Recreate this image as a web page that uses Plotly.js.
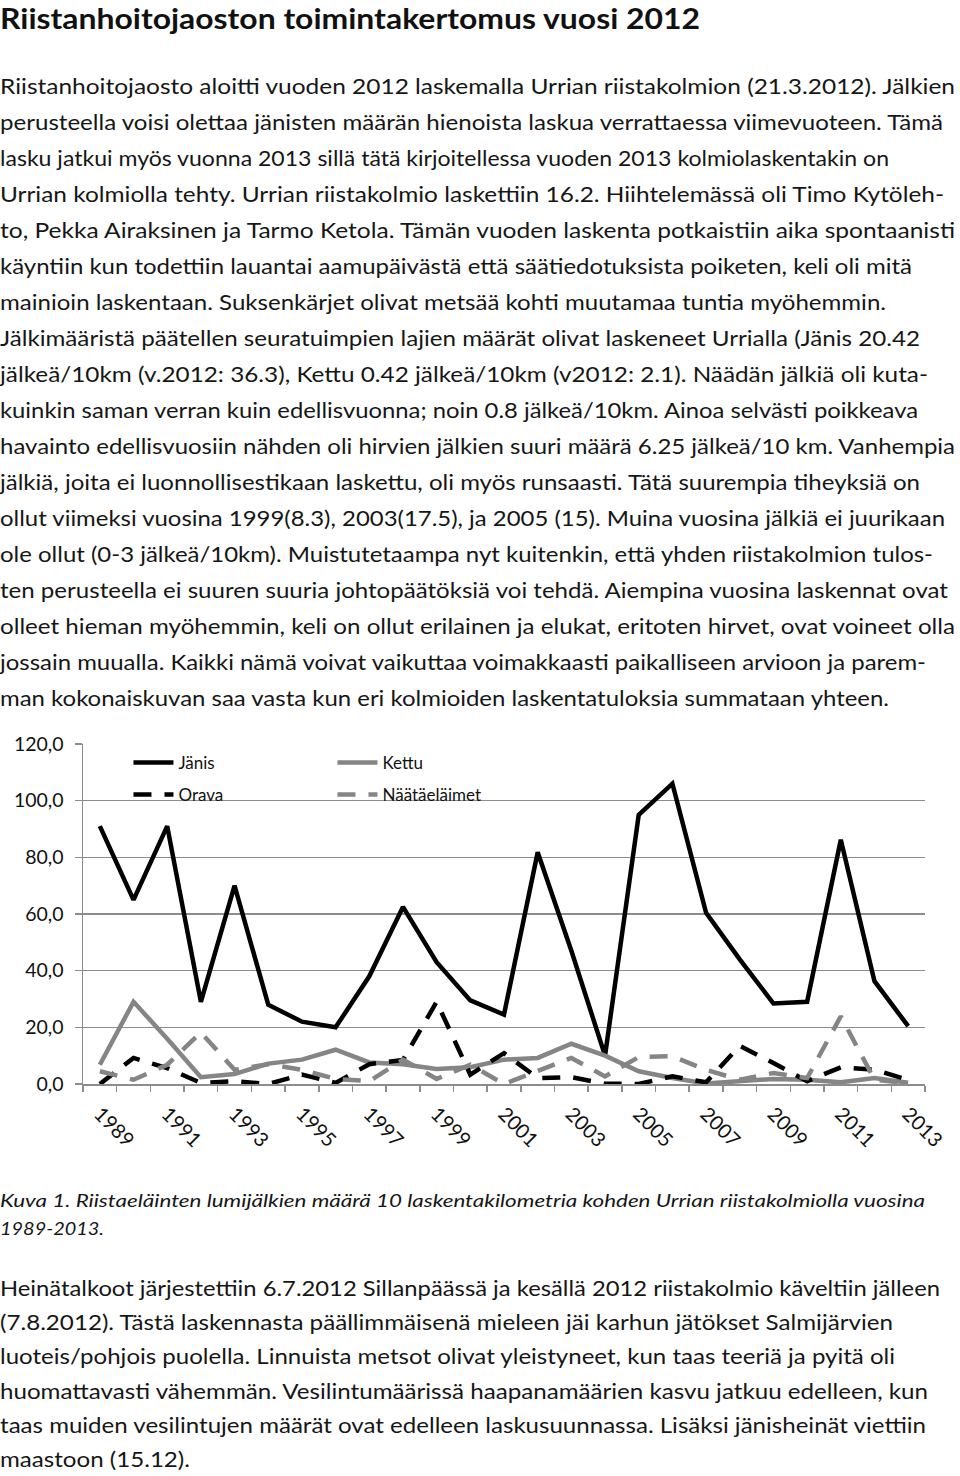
<!DOCTYPE html>
<html><head><meta charset="utf-8">
<script src="https://cdn.plot.ly/plotly-3.0.1.min.js"></script>
<style>
body{margin:0;width:960px;height:1476px;background:#fff;position:relative;overflow:hidden;font-family:Lato,'Open Sans',sans-serif;color:#161616}
.ln{position:absolute;left:0;white-space:nowrap;transform-origin:0 50%;}
</style></head><body>
<div id="text"></div>
<div id="chart" style="position:absolute;left:0;top:720px;width:960px;height:440px"></div>
<script>
// ---- data ----
const years = [1989,1990,1991,1992,1993,1994,1995,1996,1997,1998,1999,2000,2001,2002,2003,2004,2005,2006,2007,2008,2009,2010,2011,2012,2013];
const janis = [91,65,91,29,70,28,22,20,38,62.5,43,29.5,24.5,81.8,47,10,95,106,60.4,44,28.4,29,86.2,36.3,20.42];
const kettu = [6.8,29,16,2.4,3.5,7.2,8.6,12.1,7.6,7,5.3,5.9,8.6,9.2,14.2,10,4.5,2.1,0.2,1,1.8,1.5,0.6,2.1,0.42];
const orava = [0,9.2,5.6,0.4,1,0,3.3,0.4,7,8.5,29,3.3,10.9,2.1,2.4,0.1,0,2.7,0.6,13.5,7.4,1,5.9,5,1.5];
const naata = [4.5,1.5,6.8,18.2,5,7,5,1.8,1,8.6,1.8,6.8,0,4.5,9.2,2.7,9.5,9.8,5,1.5,3.9,2.1,23.9,1.5,0.3];
const seriesNames = ['Jänis','Kettu','Orava','Näätäeläimet'];
const xTickVals = [1989,1991,1993,1995,1997,1999,2001,2003,2005,2007,2009,2011,2013];
const xTickText = ['1989','1991','1993','1995','1997','1999','2001','2003','2005','2007','2009','2011','2013'];

// ---- texts ----
const title = 'Riistanhoitojaoston toimintakertomus vuosi 2012';
const para1 = [
'Riistanhoitojaosto aloitti vuoden 2012 laskemalla Urrian riistakolmion (21.3.2012). Jälkien',
'perusteella voisi olettaa jänisten määrän hienoista laskua verrattaessa viimevuoteen. Tämä',
'lasku jatkui myös vuonna 2013 sillä tätä kirjoitellessa vuoden 2013 kolmiolaskentakin on',
'Urrian kolmiolla tehty. Urrian riistakolmio laskettiin 16.2. Hiihtelemässä oli Timo Kytöleh-',
'to, Pekka Airaksinen ja Tarmo Ketola. Tämän vuoden laskenta potkaistiin aika spontaanisti',
'käyntiin kun todettiin lauantai aamupäivästä että säätiedotuksista poiketen, keli oli mitä',
'mainioin laskentaan. Suksenkärjet olivat metsää kohti muutamaa tuntia myöhemmin.',
'Jälkimääristä päätellen seuratuimpien lajien määrät olivat laskeneet Urrialla (Jänis 20.42',
'jälkeä/10km (v.2012: 36.3), Kettu 0.42 jälkeä/10km (v2012: 2.1). Näädän jälkiä oli kuta-',
'kuinkin saman verran kuin edellisvuonna; noin 0.8 jälkeä/10km. Ainoa selvästi poikkeava',
'havainto edellisvuosiin nähden oli hirvien jälkien suuri määrä 6.25 jälkeä/10 km. Vanhempia',
'jälkiä, joita ei luonnollisestikaan laskettu, oli myös runsaasti. Tätä suurempia tiheyksiä on',
'ollut viimeksi vuosina 1999(8.3), 2003(17.5), ja 2005 (15). Muina vuosina jälkiä ei juurikaan',
'ole ollut (0-3 jälkeä/10km). Muistutetaampa nyt kuitenkin, että yhden riistakolmion tulos-',
'ten perusteella ei suuren suuria johtopäätöksiä voi tehdä. Aiempina vuosina laskennat ovat',
'olleet hieman myöhemmin, keli on ollut erilainen ja elukat, eritoten hirvet, ovat voineet olla',
'jossain muualla. Kaikki nämä voivat vaikuttaa voimakkaasti paikalliseen arvioon ja parem-',
'man kokonaiskuvan saa vasta kun eri kolmioiden laskentatuloksia summataan yhteen.'
];
const para1Ends = [955,943,889,944,955,912,886,920,928,918,955,920,945,933,948,955,926,889];
const caption = [
'Kuva 1. Riistaeläinten lumijälkien määrä 10 laskentakilometria kohden Urrian riistakolmiolla vuosina',
'1989-2013.'
];
const captionEnds = [925,104];
const para2 = [
'Heinätalkoot järjestettiin 6.7.2012 Sillanpäässä ja kesällä 2012 riistakolmio käveltiin jälleen',
'(7.8.2012). Tästä laskennasta päällimmäisenä mieleen jäi karhun jätökset Salmijärvien',
'luoteis/pohjois puolella. Linnuista metsot olivat yleistyneet, kun taas teeriä ja pyitä oli',
'huomattavasti vähemmän. Vesilintumäärissä haapanamäärien kasvu jatkuu edelleen, kun',
'taas muiden vesilintujen määrät ovat edelleen laskusuunnassa. Lisäksi jänisheinät viettiin',
'maastoon (15.12).'
];
const para2Ends = [940,893,895,928,926,190];

const host = document.getElementById('text');
function block(lines, ends, y0, step, size, style){
  lines.forEach((t,i)=>{
    const d = document.createElement('div');
    d.className='ln'; d.textContent=t;
    d.style.fontSize=size+'px'; d.style.lineHeight=step+'px'; d.style.height=step+'px';
    d.style.top=(y0 + i*step - step/2)+'px';
    Object.assign(d.style, style||{});
    host.appendChild(d);
    const w = d.getBoundingClientRect().width;
    d.style.transform='scaleX('+(ends[i]/w)+')';
  });
}
block([title], [700], 18, 36, 29, {fontWeight:'700', color:'#111'});
block(para1, para1Ends, 86, 36, 21, {});
block(caption, captionEnds, 1200, 28, 18, {fontStyle:'italic'});
block(para2, para2Ends, 1288, 34.2, 21, {});

// ---- chart ----
const grid = '#8c8c8c';
const traces = [
 {x:years, y:janis, name:seriesNames[0], mode:'lines', line:{color:'#000', width:4.5}, legend:'legend'},
 {x:years, y:kettu, name:seriesNames[1], mode:'lines', line:{color:'#858585', width:4.5}, legend:'legend'},
 {x:years, y:orava, name:seriesNames[2], mode:'lines', line:{color:'#000', width:4.5, dash:'18px,13px'}, legend:'legend2'},
 {x:years, y:naata, name:seriesNames[3], mode:'lines', line:{color:'#858585', width:4.5, dash:'18px,13px'}, legend:'legend2'}
];
const legBase = {orientation:'h', xanchor:'left', yanchor:'middle', entrywidth:149, entrywidthmode:'pixels',
  font:{size:17, color:'#111', family:'Lato'}, bgcolor:'rgba(0,0,0,0)', borderwidth:0, itemwidth:40};
const layout = {
  width:960, height:440,
  margin:{l:83, r:35, t:24, b:76},
  paper_bgcolor:'#fff', plot_bgcolor:'#fff',
  separators:', ',
  font:{family:'Lato, sans-serif', size:18, color:'#111'},
  showlegend:true,
  legend:Object.assign({}, legBase, {x:0.054, y:0.944}),
  legend2:Object.assign({}, legBase, {x:0.054, y:0.85}),
  xaxis:{range:[1988.5,2013.5], tickmode:'array', tickvals:xTickVals, ticktext:xTickText, tickangle:45,
    ticks:'', showgrid:false, zeroline:false, showline:true, linecolor:grid, linewidth:1.5,
    tickfont:{size:20, color:'#111'}, ticklabelstandoff:9,
    minor:{tick0:1988.5, dtick:1, ticks:'outside', ticklen:6, tickcolor:grid, tickwidth:1.5, showgrid:false}},
  yaxis:{range:[0,120], dtick:20, tick0:0, tickformat:'.1f', showgrid:true, gridcolor:grid, gridwidth:1.5,
    zeroline:false, showline:true, linecolor:grid, linewidth:1.5, ticks:'outside', ticklen:7, tickcolor:grid, tickwidth:1.5,
    tickfont:{size:19.5, color:'#111'}, ticklabelstandoff:7}
};
Plotly.newPlot('chart', traces, layout, {staticPlot:true, displayModeBar:false});
</script>
</body></html>
